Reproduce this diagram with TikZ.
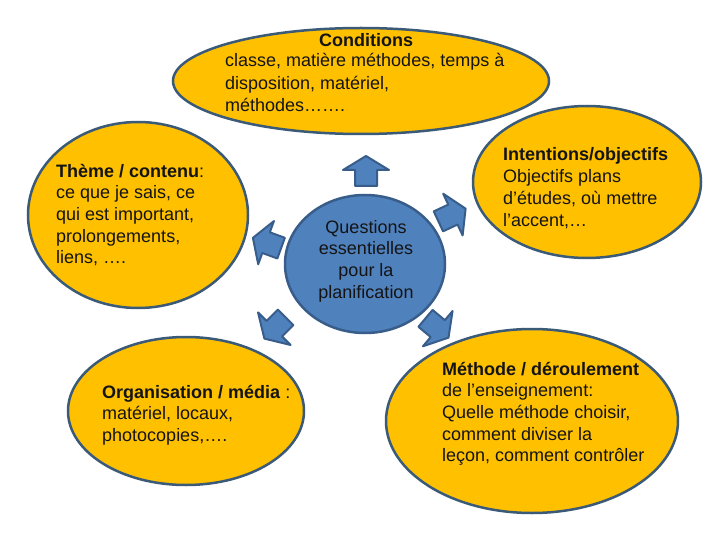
\documentclass[tikz,border=0pt]{standalone}
\usepackage{fontspec}
\setmainfont{Liberation Sans}
\usetikzlibrary{shapes.geometric}
\definecolor{gold}{HTML}{FFC000}
\definecolor{rim}{HTML}{3A5A78}
\definecolor{qblue}{HTML}{4F81BD}
\definecolor{qrim}{HTML}{385D8A}
\definecolor{ink}{HTML}{141414}
\begin{document}
\begin{tikzpicture}[x=1pt,y=-1pt,
 bubble/.style={ellipse, draw=rim, fill=gold, line width=2.5pt, inner sep=0},
 core/.style={ellipse, draw=qrim, fill=qblue, line width=2.5pt, inner sep=0},
 txt/.style={anchor=base west, inner sep=0, align=left, text=ink, font=\fontsize{18}{21.7}\selectfont},
 blockarrow/.style={draw=qrim, fill=qblue, line width=2pt, line join=round}]
\useasboundingbox (0,0) rectangle (720,540);
% bubbles
\node[bubble, minimum width=376pt, minimum height=106pt] (cond) at (361,81) {};
\node[bubble, minimum width=220pt, minimum height=186pt] (theme) at (138,215) {};
\node[bubble, minimum width=228pt, minimum height=152pt] (intent) at (587,182) {};
\node[bubble, minimum width=292pt, minimum height=184pt] (meth) at (532,421) {};
\node[bubble, minimum width=236pt, minimum height=148pt] (orga) at (186,411) {};
\node[core, minimum width=160pt, minimum height=138pt] (core) at (365,264) {};
% block arrows
\foreach \px/\py/\a in {366/171/90, 452/215/25, 267/243/160, 275/328/225, 437/328/-40}
  \draw[blockarrow, shift={(\px,\py)}, rotate=\a]
    (-15,-11) -- (1,-11) -- (1,-23) -- (15,0) -- (1,23) -- (1,11) -- (-15,11) -- cycle;
% texts (base anchor = baseline of the last line)
\node[anchor=base, inner sep=0, text=ink, font=\bfseries\fontsize{18}{22}\selectfont] (condT) at (366,47) {Conditions};
\node[txt, font=\fontsize{18}{22.3}\selectfont] (condB) at (225,111.6) {classe, matière méthodes, temps à\\disposition, matériel,\\méthodes…….};
\node[txt] (themeT) at (56,263.8) {\textbf{Thème / contenu}:\\ce que je sais, ce\\qui est important,\\prolongements,\\liens, ….};
\node[txt] (intentT) at (503,226.1) {\textbf{Intentions/objectifs}\\Objectifs plans\\d’études, où mettre\\l’accent,…};
\node[txt] (methT) at (442,461.8) {\textbf{Méthode / déroulement}\\de l’enseignement:\\Quelle méthode choisir,\\comment diviser la\\leçon, comment contrôler};
\node[txt] (orgaT) at (102,441.4) {\textbf{Organisation / média} :\\matériel, locaux,\\photocopies,….};
\node[anchor=base, inner sep=0, align=center, text=ink, font=\fontsize{18}{21.7}\selectfont] (coreT) at (366,298.1) {Questions\\essentielles\\pour la\\planification};
\end{tikzpicture}
\end{document}
